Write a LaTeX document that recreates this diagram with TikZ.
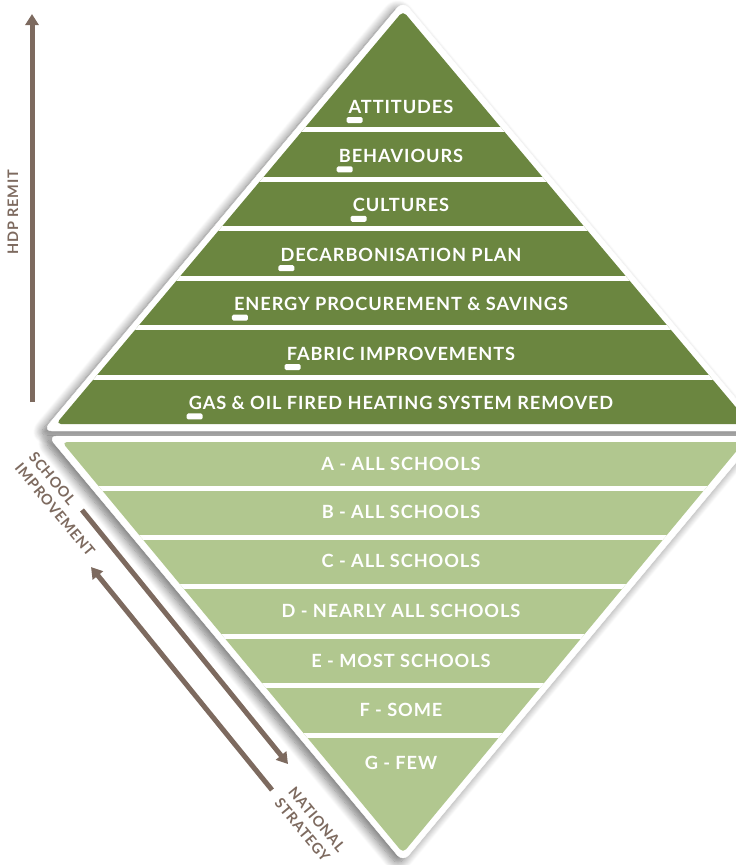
\documentclass[tikz,border=0pt]{standalone}
\usepackage{fontspec}
\setmainfont[LetterSpace=5]{Lato}
\usetikzlibrary{arrows.meta, shadows.blur}

\definecolor{darkleaf}{HTML}{6B8640}
\definecolor{paleleaf}{HTML}{B1C78F}
\definecolor{bark}{HTML}{7D6A5F}

\begin{document}
\begin{tikzpicture}[x=1pt, y=-1pt, >={Triangle[width=13pt, length=11pt]}, line join=round,
        layer/.style={text=white, font=\bfseries\fontsize{18.2}{20}\selectfont, inner sep=0pt, anchor=base},
        side/.style={text=bark, font=\bfseries\fontsize{14.5}{18}\selectfont, inner sep=0pt, align=left},
        trend/.style={bark, line width=5pt},
        soft/.style={blur shadow={shadow xshift=-5pt, shadow yshift=-4pt, shadow blur radius=9pt, shadow blur steps=12, shadow opacity=55}}]
            \useasboundingbox (0, 0) rectangle (736, 865);

            \newcommand{\layerlabel}[3]{
                \node[layer] (#1) at (401, #2) {#3};
            }
            \newcommand{\marklabel}[1]{
                \fill[white, rounded corners=1.5pt] ([xshift=-2pt, yshift=-4pt]#1.base west) rectangle ++(16pt, -6pt);
            }

            % upper half
            \filldraw[white, rounded corners=9pt, soft] (403, 1) -- (763, 431) -- (43, 431) -- cycle;
            \fill[darkleaf, rounded corners=5pt] (403, 11) -- (750, 424) -- (56, 424) -- cycle;
            \begin{scope}
                \clip (403, 11) -- (750, 424) -- (56, 424) -- cycle;
                \draw[white, line width=5pt] (0, 129.5) -- (760, 129.5);
                \draw[white, line width=5pt] (0, 179) -- (760, 179);
                \draw[white, line width=5pt] (0, 228.5) -- (760, 228.5);
                \draw[white, line width=5pt] (0, 278) -- (760, 278);
                \draw[white, line width=5pt] (0, 327.5) -- (760, 327.5);
                \draw[white, line width=5pt] (0, 377) -- (760, 377);
            \end{scope}

            % lower half
            \filldraw[white, rounded corners=9pt, soft] (48, 436) -- (758, 436) -- (403, 862) -- cycle;
            \fill[paleleaf, rounded corners=5pt] (62, 442) -- (744, 442) -- (403, 853) -- cycle;
            \begin{scope}
                \clip (62, 442) -- (744, 442) -- (403, 853) -- cycle;
                \draw[white, line width=5pt] (0, 488) -- (760, 488);
                \draw[white, line width=5pt] (0, 537.5) -- (760, 537.5);
                \draw[white, line width=5pt] (0, 586.5) -- (760, 586.5);
                \draw[white, line width=5pt] (0, 636) -- (760, 636);
                \draw[white, line width=5pt] (0, 685.5) -- (760, 685.5);
                \draw[white, line width=5pt] (0, 735) -- (760, 735);
            \end{scope}

            \layerlabel{attitudes}{113}{ATTITUDES}
            \layerlabel{behaviours}{162.4}{BEHAVIOURS}
            \layerlabel{cultures}{211.8}{CULTURES}
            \layerlabel{decarb}{261.2}{DECARBONISATION PLAN}
            \layerlabel{energy}{310.6}{ENERGY PROCUREMENT \& SAVINGS}
            \layerlabel{fabric}{360}{FABRIC IMPROVEMENTS}
            \layerlabel{heating}{409.4}{GAS \& OIL FIRED HEATING SYSTEM REMOVED}
            \marklabel{attitudes}
            \marklabel{behaviours}
            \marklabel{cultures}
            \marklabel{decarb}
            \marklabel{energy}
            \marklabel{fabric}
            \marklabel{heating}

            \layerlabel{gradea}{470}{A - ALL SCHOOLS}
            \layerlabel{gradeb}{518.5}{B - ALL SCHOOLS}
            \layerlabel{gradec}{567.5}{C - ALL SCHOOLS}
            \layerlabel{graded}{617}{D - NEARLY ALL SCHOOLS}
            \layerlabel{gradee}{667}{E - MOST SCHOOLS}
            \layerlabel{gradef}{716}{F - SOME}
            \layerlabel{gradeg}{769}{G - FEW}

            % side arrows
            \coordinate (remit-tail) at (32, 402);
            \coordinate (remit-tip) at (32, 14);
            \draw[->, trend] (remit-tail) -- (remit-tip);
            \node[side, rotate=90] (remit) at (13, 212) {HDP REMIT};

            \coordinate (down-tail) at (82, 510);
            \coordinate (down-tip) at (288, 764);
            \coordinate (up-tail) at (272, 790);
            \coordinate (up-tip) at (91, 567);
            \draw[->, trend] (down-tail) -- (down-tip);
            \draw[->, trend] (up-tail) -- (up-tip);
            \node[side, rotate=-50.2] (school) at (62, 504) {SCHOOL\\IMPROVEMENT};
            \node[side, rotate=-50.2] (national) at (310, 825) {NATIONAL\\STRATEGY};
        \end{tikzpicture}
\end{document}
